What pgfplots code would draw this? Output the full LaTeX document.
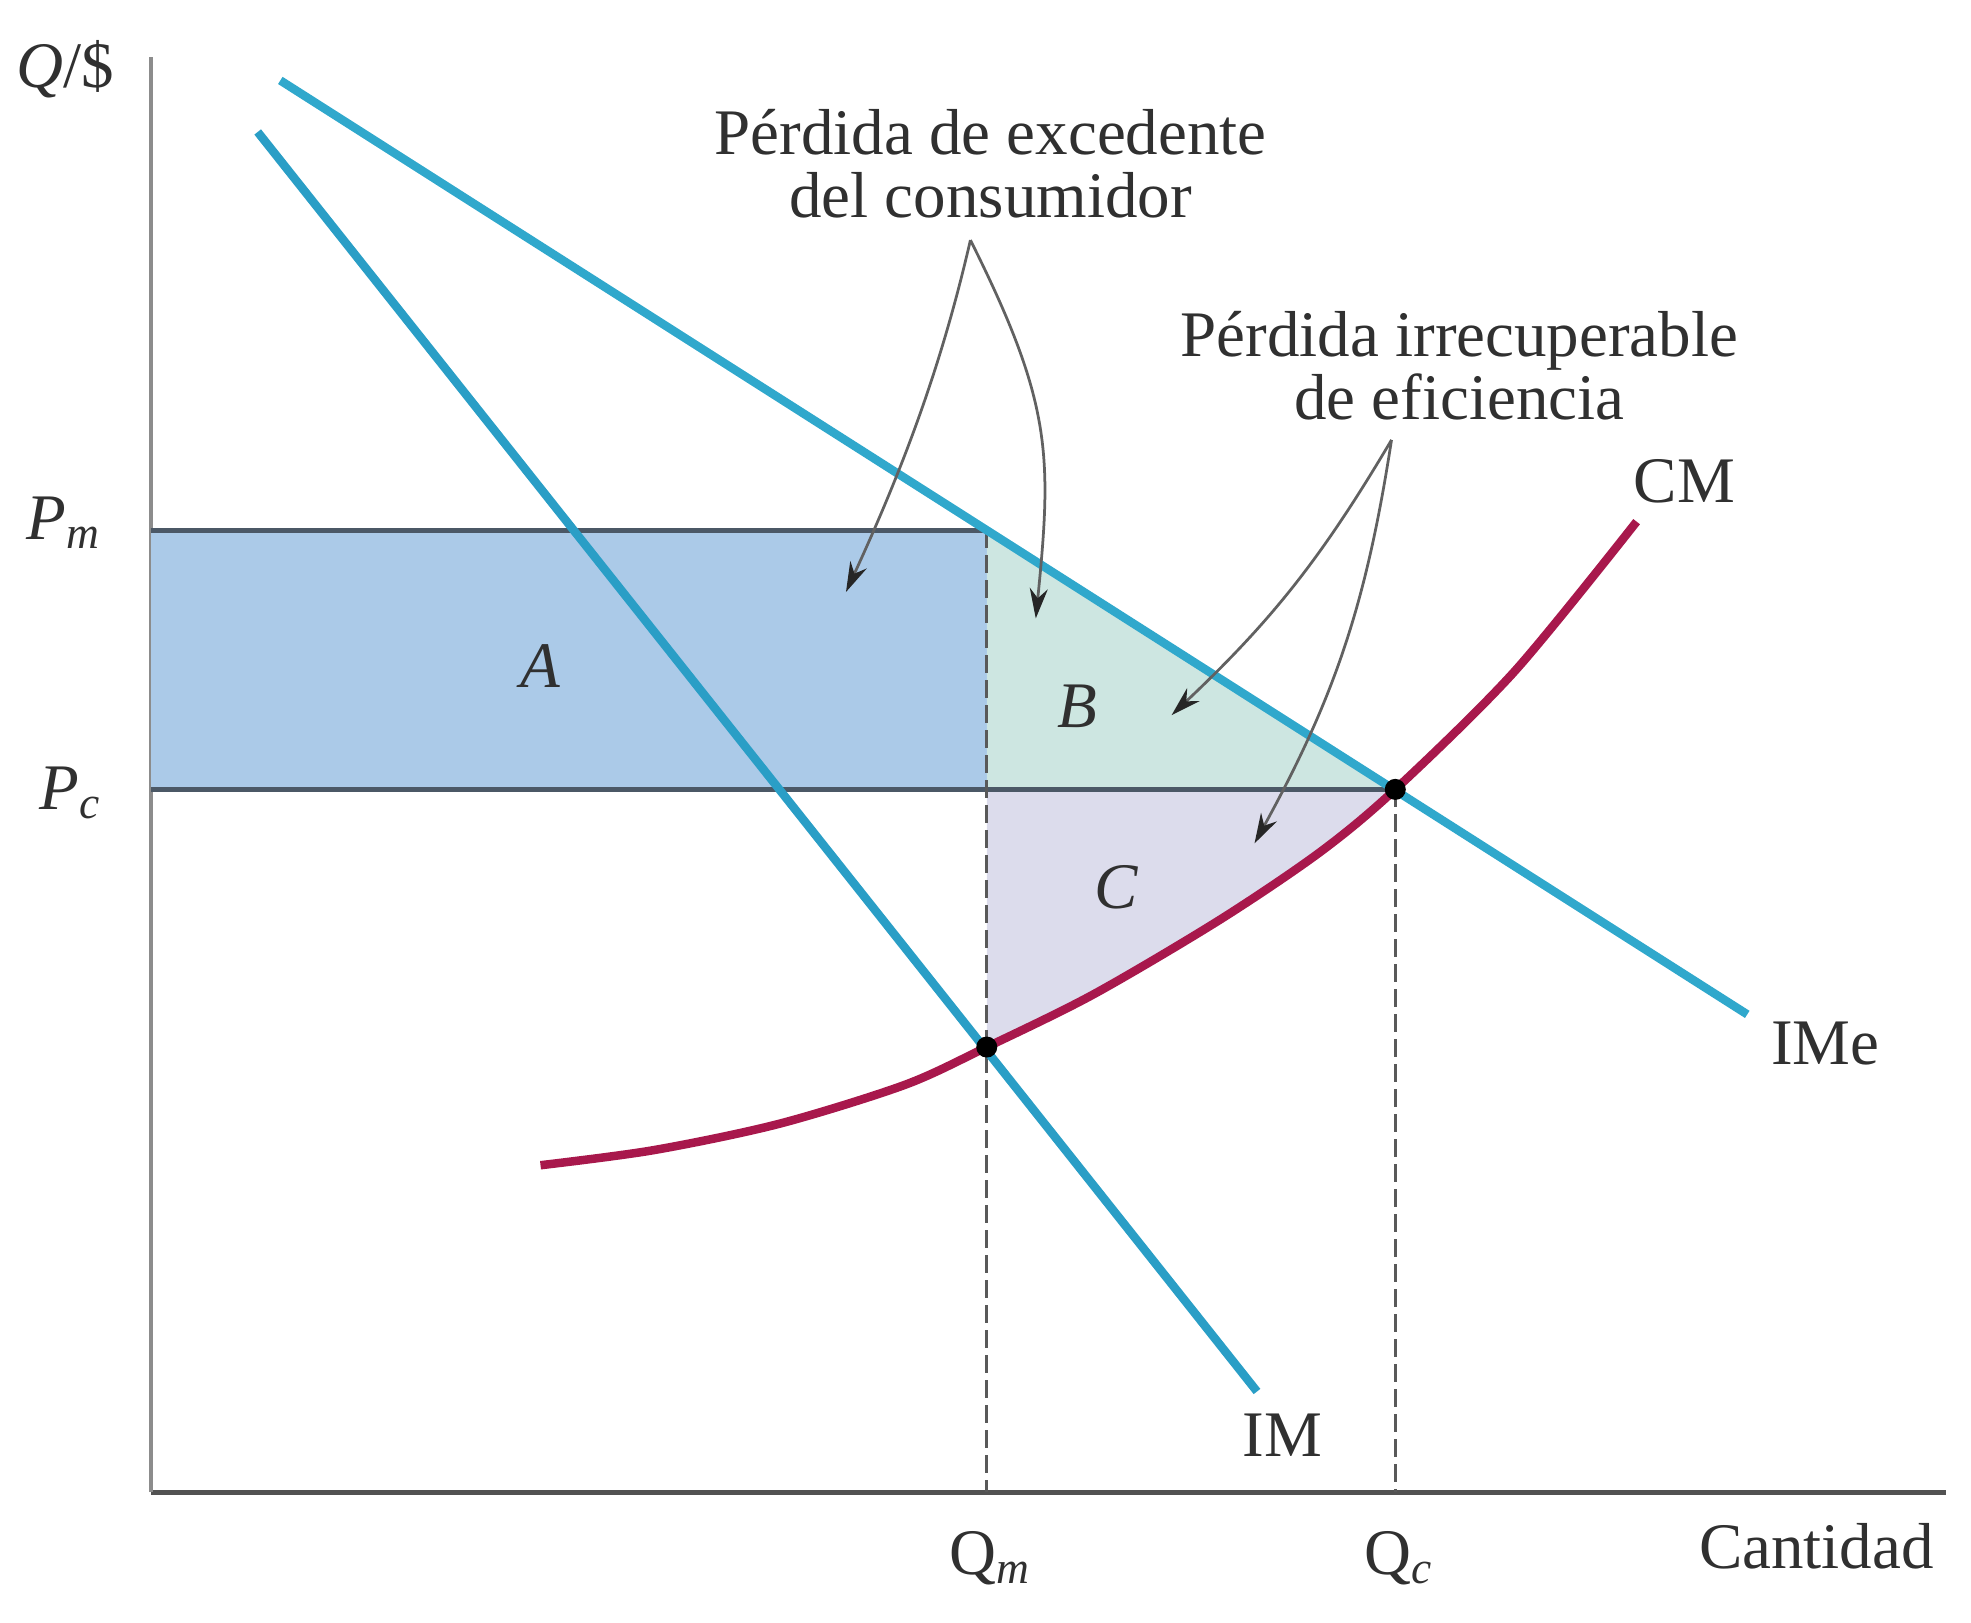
\documentclass[border=0pt]{standalone}
\usepackage{fontspec}
\setmainfont{Liberation Serif}
\usepackage{pgfplots}
\pgfplotsset{compat=1.18}
\usetikzlibrary{arrows.meta}
\definecolor{imblue}{HTML}{2A9EC6}
\definecolor{imeblue}{HTML}{30A8CC}
\definecolor{cmred}{HTML}{A8184C}
\definecolor{fillA}{HTML}{ABCAE8}
\definecolor{fillB}{HTML}{CDE6E1}
\definecolor{fillC}{HTML}{DCDCEC}
\definecolor{pline}{HTML}{4B5866}
\definecolor{txt}{HTML}{303030}
\newcommand\lbl{\fontsize{13}{12.6}\selectfont}
\tikzset{arr/.style={draw=black!62, line width=0.55pt, -{Stealth[length=6pt,width=3.6pt,color=black!85]}}}
\begin{document}
\begin{tikzpicture}
\path[use as bounding box] (-30.17pt,-26.15pt) rectangle (364.03pt,298.41pt);
\begin{axis}[
  scale only axis, width=359.0pt, height=287.1pt,
  xmin=0, xmax=1428, ymin=0, ymax=1142,
  axis lines=left, axis line style={-},
  x axis line style={draw=black!68, line width=1pt},
  y axis line style={draw=black!45, line width=0.9pt},
  xtick=\empty, ytick=\empty,
  clip=false,
]
% shaded areas
\addplot[fill=fillA, draw=none] coordinates {(0,559) (665,559) (665,765) (0,765)} -- cycle;
\addplot[fill=fillB, draw=none] coordinates {(665,559) (665,765) (990,559)} -- cycle;
\addplot[fill=fillC, draw=none] coordinates {(665,559) (990,559) (930,509) (850,455) (750,396) (665,354)} -- cycle;
% price lines
\addplot[pline, line width=1pt] coordinates {(0,765) (665,765)};
\addplot[pline, line width=1pt] coordinates {(0,559) (990,559)};
% dashed quantity lines
\addplot[black!65, line width=0.6pt, dash pattern=on 3.5pt off 1.5pt] coordinates {(665,765) (665,0)};
\addplot[black!65, line width=0.6pt, dash pattern=on 3.5pt off 1.5pt] coordinates {(990,559) (990,0)};
% curves
\addplot[imblue, line width=1.7pt] coordinates {(85,1082) (880,80)};
\addplot[imeblue, line width=1.7pt] coordinates {(103,1123) (1270,380)};
\addplot[cmred, line width=1.7pt, smooth] coordinates {
  (310,260) (400,272) (500,293) (600,324) (665,354) (750,396)
  (850,455) (930,509) (990,559) (1085,653) (1182,772)};
% intersection points
\addplot[only marks, mark=*, mark size=1.9pt, black] coordinates {(665,354) (990,559)};
% annotations
\draw[arr] (axis cs:652,996) .. controls (axis cs:629,896) and (axis cs:599,816) .. (axis cs:553,716);
\draw[arr] (axis cs:652,996) .. controls (axis cs:717,866) and (axis cs:717,825) .. (axis cs:704,695);
\draw[arr] (axis cs:987,837) to[bend left=8] (axis cs:812,618);
\draw[arr] (axis cs:987,837) to[bend left=10] (axis cs:878,516);
\node[font=\lbl, align=center, text=txt] at (axis cs:668,1057) {Pérdida de excedente\\del consumidor};
\node[font=\lbl, align=center, text=txt] at (axis cs:1041,896) {Pérdida irrecuperable\\de eficiencia};
% labels
\node[font=\lbl, text=txt] at (axis cs:-68,1132) {\textit{Q}/\$};
\node[font=\lbl, text=txt, anchor=east] at (axis cs:-25,771) {\textit{P}\textsubscript{\textit{m}}};
\node[font=\lbl, text=txt, anchor=east] at (axis cs:-25,556) {\textit{P}\textsubscript{\textit{c}}};
\node[font=\lbl, text=txt] at (axis cs:668,-53) {Q\textsubscript{\textit{m}}};
\node[font=\lbl, text=txt] at (axis cs:993,-53) {Q\textsubscript{\textit{c}}};
\node[font=\lbl, text=txt] at (axis cs:1325,-43) {Cantidad};
\node[font=\lbl, text=txt] at (axis cs:310,657) {\textit{A}};
\node[font=\lbl, text=txt] at (axis cs:737,625) {\textit{B}};
\node[font=\lbl, text=txt] at (axis cs:768,481) {\textit{C}};
\node[font=\lbl, text=txt] at (axis cs:1220,804) {CM};
\node[font=\lbl, text=txt] at (axis cs:1332,357) {IMe};
\node[font=\lbl, text=txt] at (axis cs:900,45) {IM};
\end{axis}
\end{tikzpicture}
\end{document}
